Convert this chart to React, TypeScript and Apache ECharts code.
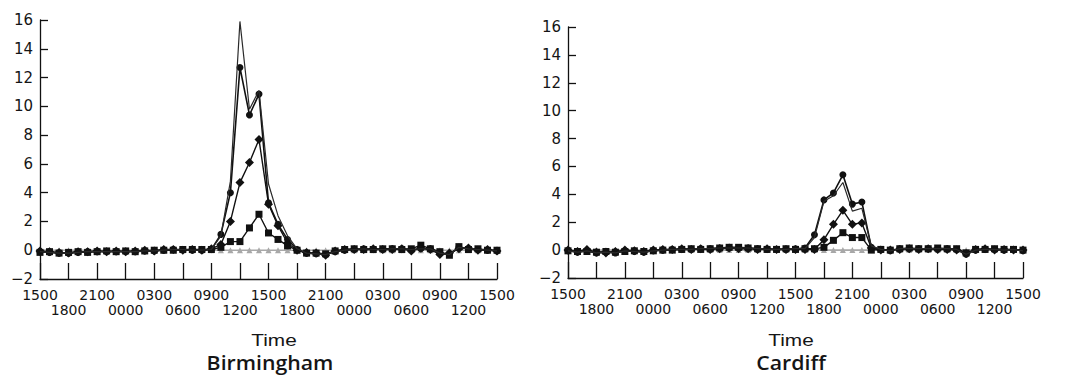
import React, { useEffect, useRef } from "react";
import * as echarts from "echarts";

// Hourly time categories from 1500 to 1500 two days later (49 points)
const hours = [
  "1500", "1600", "1700", "1800", "1900", "2000", "2100", "2200", "2300", "0000",
  "0100", "0200", "0300", "0400", "0500", "0600", "0700", "0800", "0900", "1000",
  "1100", "1200", "1300", "1400", "1500", "1600", "1700", "1800", "1900", "2000",
  "2100", "2200", "2300", "0000", "0100", "0200", "0300", "0400", "0500", "0600",
  "0700", "0800", "0900", "1000", "1100", "1200", "1300", "1400", "1500",
];

const yTicksMin = -2;
const yTicksMax = 16;
const yTickStep = 2;

// Birmingham
const bhamThin = [
  -0.1, -0.15, -0.2, -0.2, -0.15, -0.1, -0.1, -0.1, -0.1, -0.1,
  -0.1, -0.05, -0.05, 0, 0.05, 0.05, 0, 0, 0.05,
  1.0, 4.8, 15.9, 9.8, 11.1, 4.6, 2.4, 1.0, 0.1,
  -0.2, -0.25, -0.3, -0.1, 0, 0.05, 0.1, 0.05, 0.05, 0.1, 0.1,
  0.05, 0.1, 0.1, -0.2, -0.3, 0.2, 0.1, 0.05, 0, -0.05,
];
const bhamCircle = [
  -0.1, -0.15, -0.2, -0.2, -0.15, -0.1, -0.1, -0.1, -0.1, -0.1,
  -0.1, -0.05, -0.05, 0, 0.05, 0.05, 0, 0, 0.05,
  1.1, 4.0, 12.7, 9.4, 10.85, 3.3, 1.8, 0.75, 0.05,
  -0.2, -0.25, -0.3, -0.1, 0, 0.05, 0.1, 0.05, 0.05, 0.1, 0.1,
  0.05, 0.1, 0.1, -0.2, -0.3, 0.2, 0.1, 0.05, 0, -0.05,
];
const bhamDiamond = [
  -0.05, -0.1, -0.15, -0.2, -0.1, -0.1, -0.05, -0.1, -0.05, -0.1,
  -0.05, 0, -0.05, 0.05, 0.05, 0, 0.05, 0, 0.1,
  0.4, 2.0, 4.7, 6.1, 7.7, 3.2, 1.7, 0.5, 0,
  -0.15, -0.2, -0.35, -0.05, 0.05, 0.05, 0.05, 0.1, 0.05, 0.05, 0.1,
  -0.05, 0.15, 0.05, -0.3, -0.2, 0.1, 0.15, 0, 0.05, -0.05,
];
const bhamSquare = [
  -0.15, -0.1, -0.2, -0.15, -0.1, -0.15, -0.1, -0.05, -0.1, -0.05,
  -0.1, -0.05, 0, 0, 0, 0.05, 0.05, 0.05, 0.05,
  0.2, 0.6, 0.6, 1.55, 2.5, 1.2, 0.75, 0.3, 0,
  -0.2, -0.2, -0.25, -0.05, 0.05, 0.1, 0.05, 0.05, 0.1, 0.1, 0.05,
  0.1, 0.35, 0.1, -0.1, -0.35, 0.25, 0.05, 0.1, 0, 0,
];
const bhamGrey = [
  0, 0, 0, 0, 0, 0, 0, 0, 0, 0, 0, 0, 0, 0, 0, 0, 0, 0, 0,
  0, 0, 0, 0, 0, 0, 0, 0, 0, 0, 0, 0, 0, 0, 0, 0, 0, 0, 0,
  0, 0, 0, 0, 0, 0, 0, 0, 0, 0, 0,
];

// Cardiff
const cardThin = [
  -0.05, -0.15, -0.05, -0.2, -0.15, -0.2, -0.05, -0.1, -0.15, -0.05,
  0, 0.05, 0.05, 0.05, 0.1, 0.1, 0.15, 0.15, 0.15, 0.15,
  0.1, 0.05, 0.05, 0.05, 0.1, 0.1,
  0.9, 3.5, 3.9, 4.85, 2.8, 3.0, 0.3,
  0.05, -0.05, 0.1, 0.1, 0.1, 0.1, 0.1, 0.1, 0.05, -0.3, 0, 0.05, 0.05, 0, 0.05, -0.05,
];
const cardCircle = [
  -0.05, -0.15, -0.05, -0.2, -0.15, -0.2, -0.05, -0.1, -0.15, -0.05,
  0, 0.05, 0.05, 0.05, 0.1, 0.1, 0.15, 0.15, 0.15, 0.15,
  0.1, 0.05, 0.05, 0.05, 0.1, 0.15,
  1.1, 3.6, 4.1, 5.4, 3.3, 3.45, 0.2,
  0.05, -0.05, 0.1, 0.1, 0.1, 0.1, 0.1, 0.1, 0.05, -0.3, 0, 0.05, 0.05, 0, 0.05, -0.05,
];
const cardDiamond = [
  0, -0.1, 0.05, -0.15, -0.2, -0.1, 0, -0.05, -0.1, 0,
  0.05, 0.05, 0.1, 0.05, 0.1, 0.05, 0.1, 0.15, 0.1, 0.1,
  0.05, 0.1, 0.05, 0.05, 0.05, 0.05,
  0.05, 0.75, 1.85, 2.85, 1.85, 1.95, 0.15,
  0, 0, 0.05, 0.1, 0.05, 0.1, 0.05, 0.05, 0, -0.25, 0.05, 0.1, 0, 0.05, 0, 0,
];
const cardSquare = [
  -0.05, -0.1, -0.1, -0.15, -0.1, -0.15, -0.1, -0.05, -0.1, -0.05,
  0, 0, 0.05, 0.1, 0.05, 0.1, 0.15, 0.2, 0.2, 0.15,
  0.1, 0.05, 0.05, 0.1, 0.05, 0.1,
  0.1, 0.2, 0.7, 1.25, 0.9, 0.9, 0,
  0.05, 0, 0.1, 0.15, 0.1, 0.1, 0.15, 0.1, 0.1, -0.2, 0.05, 0.05, 0.1, 0.05, 0.05, 0,
];
const cardGrey = [
  0, 0, 0, 0, 0, 0, 0, 0, 0, 0, 0, 0, 0, 0, 0, 0, 0, 0, 0,
  0, 0, 0, 0, 0, 0, 0, 0, 0, 0, 0, 0, 0, 0, 0, 0, 0, 0, 0,
  0, 0, 0, 0, 0, 0, 0, 0, 0, 0, 0,
];

const panelTitles = ["Birmingham", "Cardiff"];
const axisTitle = "Time";

const INK = "#111111";
const FONT = "DejaVu Sans";

const labelBase = {
  color: "#151515",
  fontFamily: FONT,
  fontSize: 14,
  hideOverlap: false,
};

// Main x axis: line, ticks, and top row of labels (every 6 h)
function xAxisMain(gridIndex: number) {
  return {
    type: "category",
    gridIndex,
    position: "bottom",
    data: hours,
    boundaryGap: false,
    axisLine: { onZero: false, lineStyle: { color: INK, width: 1.3 } },
    axisTick: {
      inside: true,
      length: 16,
      interval: 2,
      lineStyle: { color: INK, width: 1.3 },
    },
    axisLabel: {
      ...labelBase,
      interval: (i: number) => i % 6 === 0,
      showMinLabel: true,
      showMaxLabel: true,
      margin: 9,
    },
    splitLine: { show: false },
  };
}

// Companion x axis: second (staggered) row of labels only
function xAxisSecond(gridIndex: number) {
  return {
    type: "category",
    gridIndex,
    position: "bottom",
    data: hours,
    boundaryGap: false,
    axisLine: { show: false, onZero: false },
    axisTick: { show: false },
    axisLabel: {
      ...labelBase,
      interval: (i: number) => i % 6 === 3,
      margin: 24,
    },
    splitLine: { show: false },
  };
}

function yAxisFor(gridIndex: number) {
  return {
    type: "value",
    gridIndex,
    min: yTicksMin,
    max: yTicksMax,
    interval: yTickStep,
    axisLine: { show: true, lineStyle: { color: INK, width: 1.3 } },
    axisTick: { show: true, inside: true, length: 8, lineStyle: { color: INK, width: 1.3 } },
    axisLabel: {
      margin: 7,
      color: "#151515",
      fontFamily: FONT,
      fontSize: 15,
      formatter: (v: number) => (v < 0 ? "\u2212" + Math.abs(v) : String(v)),
    },
    splitLine: { show: false },
  };
}

function seriesFor(
  idx: number,
  thin: number[],
  circle: number[],
  diamond: number[],
  square: number[],
  grey: number[]
) {
  const base = {
    type: "line",
    xAxisIndex: idx,
    yAxisIndex: idx,
    smooth: false,
    showAllSymbol: true,
  };
  return [
    {
      ...base,
      name: "grey",
      data: grey,
      symbol: "triangle",
      symbolSize: 6,
      itemStyle: { color: "#a8a8a8" },
      lineStyle: { color: "#a8a8a8", width: 1.6 },
      z: 1,
    },
    {
      ...base,
      name: "square",
      data: square,
      symbol: "rect",
      symbolSize: 7,
      itemStyle: { color: INK },
      lineStyle: { color: INK, width: 1.4 },
      z: 2,
    },
    {
      ...base,
      name: "diamond",
      data: diamond,
      symbol: "diamond",
      symbolSize: 9,
      itemStyle: { color: INK },
      lineStyle: { color: INK, width: 1.4 },
      z: 3,
    },
    {
      ...base,
      name: "circle",
      data: circle,
      symbol: "circle",
      symbolSize: 7,
      itemStyle: { color: INK },
      lineStyle: { color: INK, width: 1.6 },
      z: 4,
    },
    {
      ...base,
      name: "thin",
      data: thin,
      symbol: "none",
      lineStyle: { color: "#2a2a2a", width: 1.2 },
      z: 5,
    },
  ];
}

function titleText(
  text: string,
  x: number,
  y: number,
  size: number,
  weight: string | number,
  family: string,
  sx: number
) {
  return {
    type: "text",
    x,
    y,
    scaleX: sx,
    style: {
      text,
      fill: "#151515",
      fontFamily: family,
      fontSize: size,
      fontWeight: weight,
      textAlign: "center",
      align: "center",
      textVerticalAlign: "middle",
      verticalAlign: "middle",
    },
  };
}

export default function App() {
  const ref = useRef<HTMLDivElement>(null);

  useEffect(() => {
    if (!ref.current) return;
    const chart = echarts.init(ref.current, undefined, { renderer: "svg" });
    chart.setOption({
      animation: false,
      backgroundColor: "#ffffff",
      grid: [
        { left: 40, right: 570, top: 20, bottom: 102 },
        { left: 568, right: 44, top: 27, bottom: 103 },
      ],
      xAxis: [xAxisMain(0), xAxisMain(1), xAxisSecond(0), xAxisSecond(1)],
      yAxis: [yAxisFor(0), yAxisFor(1)],
      series: [
        ...seriesFor(0, bhamThin, bhamCircle, bhamDiamond, bhamSquare, bhamGrey),
        ...seriesFor(1, cardThin, cardCircle, cardDiamond, cardSquare, cardGrey),
      ],
      graphic: [
        titleText(axisTitle, 274, 340, 16, "normal", "Liberation Sans", 1.3),
        titleText(panelTitles[0], 270, 362, 19, 600, "Open Sans", 1.12),
        titleText(axisTitle, 791, 340, 16, "normal", "Liberation Sans", 1.3),
        titleText(panelTitles[1], 791, 362, 19, 600, "Open Sans", 1.12),
      ],
    });
    return () => chart.dispose();
  }, []);

  return (
    <div
      ref={ref}
      style={{ position: "fixed", left: 0, top: 0, width: 1067, height: 381, background: "#fff" }}
    />
  );
}
